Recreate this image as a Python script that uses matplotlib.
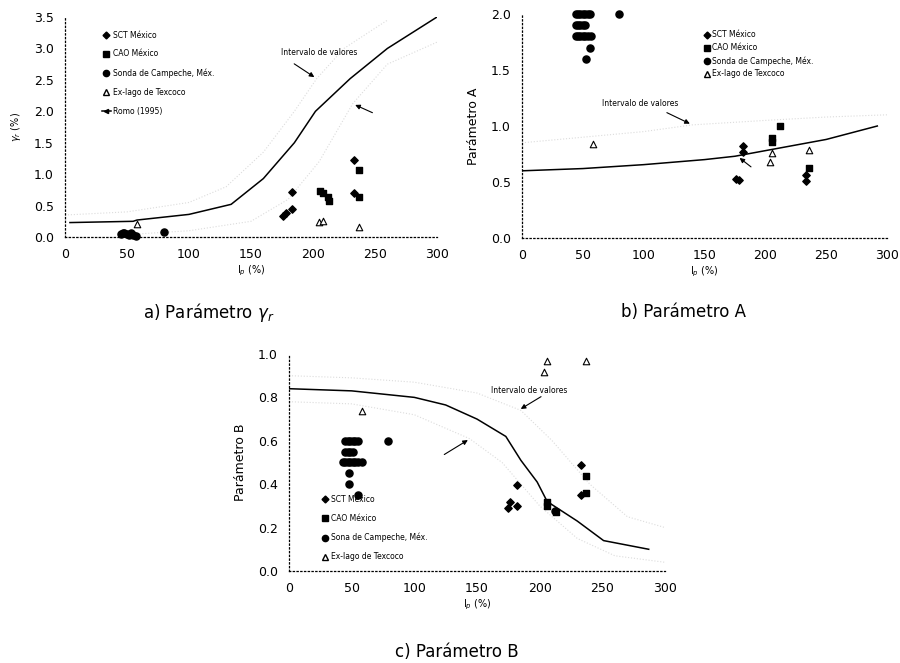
import matplotlib.pyplot as plt
from matplotlib.lines import Line2D

plt.rcParams['font.family'] = ['DejaVu Sans']

# ---- a) gamma_r ----
romo_a_x = [4, 55, 58, 100, 134, 160, 185, 202, 230, 260, 300]
romo_a_y = [0.23, 0.25, 0.27, 0.36, 0.52, 0.93, 1.5, 2.0, 2.52, 3.0, 3.5]
band_a_up_x = [0, 50, 100, 130, 160, 185, 203, 225, 260]
band_a_up_y = [0.35, 0.4, 0.55, 0.8, 1.35, 2.0, 2.52, 3.0, 3.45]
band_a_lo_x = [60, 100, 150, 180, 205, 232, 260, 300]
band_a_lo_y = [0.05, 0.1, 0.25, 0.6, 1.2, 2.12, 2.75, 3.1]
sct_a_x = [183, 183, 176, 178, 233, 233]
sct_a_y = [0.72, 0.45, 0.33, 0.38, 1.22, 0.70]
cao_a_x = [206, 208, 212, 213, 237, 237]
cao_a_y = [0.74, 0.70, 0.64, 0.57, 1.06, 0.64]
sonda_a_x = [45, 47, 48, 50, 52, 53, 55, 57, 80]
sonda_a_y = [0.05, 0.06, 0.07, 0.05, 0.04, 0.06, 0.03, 0.02, 0.08]
tex_a_x = [58, 205, 208, 237]
tex_a_y = [0.20, 0.24, 0.25, 0.16]

# ---- b) A ----
romo_b_x = [0, 50, 100, 150, 175, 185, 200, 250, 292]
romo_b_y = [0.6, 0.62, 0.655, 0.70, 0.73, 0.75, 0.78, 0.88, 1.0]
band_b_up_x = [0, 100, 140, 200, 250, 300]
band_b_up_y = [0.85, 0.95, 1.01, 1.05, 1.08, 1.1]
sct_b_x = [176, 178, 182, 182, 233, 233]
sct_b_y = [0.53, 0.52, 0.82, 0.77, 0.565, 0.505]
cao_b_x = [205.5, 205.5, 212, 235.6]
cao_b_y = [0.89, 0.86, 1.0, 0.624]
sonda_b_x = [44, 46, 48, 50, 52, 54, 56, 44, 46, 48, 50, 52,
             44, 46, 48, 50, 52, 54, 57, 56, 53, 80]
sonda_b_y = [2.0, 2.0, 2.0, 2.0, 2.0, 2.0, 2.0, 1.9, 1.9, 1.9, 1.9, 1.9,
             1.8, 1.8, 1.8, 1.8, 1.8, 1.8, 1.8, 1.7, 1.6, 2.0]
tex_b_x = [58, 203.6, 205.5, 235.6]
tex_b_y = [0.84, 0.683, 0.758, 0.79]

# ---- c) B ----
romo_c_x = [0, 50, 100, 125, 150, 173, 185, 198, 206, 230, 251, 287]
romo_c_y = [0.84, 0.83, 0.80, 0.765, 0.70, 0.62, 0.51, 0.41, 0.32, 0.23, 0.14, 0.10]
band_c_up_x = [0, 50, 100, 150, 185, 210, 240, 270, 300]
band_c_up_y = [0.9, 0.89, 0.87, 0.82, 0.74, 0.6, 0.4, 0.25, 0.2]
band_c_lo_x = [0, 50, 100, 144, 170, 200, 230, 260, 300]
band_c_lo_y = [0.78, 0.77, 0.72, 0.61, 0.5, 0.3, 0.15, 0.07, 0.04]
sct_c_x = [175, 176.6, 182, 182, 232.7, 232.7]
sct_c_y = [0.288, 0.318, 0.298, 0.398, 0.488, 0.349]
cao_c_x = [206, 206, 212.7, 236.7, 236.7]
cao_c_y = [0.318, 0.298, 0.272, 0.438, 0.36]
sonda_c_x = [45, 47, 49, 51, 53, 55, 45, 47, 49, 51, 43, 45, 47, 49, 51, 53, 55, 58,
             48, 48, 55, 79, 212]
sonda_c_y = [0.6, 0.6, 0.6, 0.6, 0.6, 0.6, 0.55, 0.55, 0.55, 0.55, 0.5, 0.5, 0.5, 0.5,
             0.5, 0.5, 0.5, 0.5, 0.45, 0.4, 0.35, 0.6, 0.275]
tex_c_x = [58.4, 203.8, 206, 237]
tex_c_y = [0.738, 0.918, 0.968, 0.968]

labels_ab = ["SCT México", "CAO México", "Sonda de Campeche, Méx.", "Ex-lago de Texcoco"]
labels_c = ["SCT México", "CAO México", "Sona de Campeche, Méx.", "Ex-lago de Texcoco"]

fig = plt.figure(figsize=(9, 6.63), dpi=100)
ax_a = fig.add_axes([0.0722, 0.6425, 0.4133, 0.3318])
ax_b = fig.add_axes([0.58, 0.641, 0.4056, 0.3379])
ax_c = fig.add_axes([0.3211, 0.1388, 0.4178, 0.3273])


def style(ax, ymax, ystep):
    for s in ['top', 'right']:
        ax.spines[s].set_visible(False)
    for s in ['left', 'bottom']:
        ax.spines[s].set_linestyle((0, (1, 2)))
        ax.spines[s].set_linewidth(0.9)
    ax.set_xlim(0, 300)
    ax.set_ylim(0, ymax)
    ax.set_xticks(range(0, 301, 50))
    ticks = [i * ystep for i in range(int(round(ymax / ystep)) + 1)]
    ax.set_yticks(ticks)
    ax.set_yticklabels([f"{t:.1f}" for t in ticks])
    ax.tick_params(length=0, labelsize=9, pad=8)
    ax.set_xlabel("I$_p$ (%)", fontsize=7, labelpad=2)


def points(ax, sx, sy, cx, cy, ox, oy, tx, ty):
    kw = dict(color='black', zorder=3, clip_on=False)
    ax.scatter(sx, sy, marker='D', s=14, **kw)
    ax.scatter(cx, cy, marker='s', s=22, **kw)
    ax.scatter(ox, oy, marker='o', s=26, **kw)
    ax.scatter(tx, ty, marker='^', s=22, facecolor='white', edgecolor='black',
               linewidth=0.8, zorder=3, clip_on=False)


def handles():
    return [
        Line2D([], [], marker='D', ls='none', color='black', markersize=3.5),
        Line2D([], [], marker='s', ls='none', color='black', markersize=4),
        Line2D([], [], marker='o', ls='none', color='black', markersize=4.5),
        Line2D([], [], marker='^', ls='none', markerfacecolor='white',
               markeredgecolor='black', markersize=4.5),
    ]


arrow = dict(arrowstyle='-|>', color='black', lw=0.8, mutation_scale=7)
band_style = dict(color='#dcdcdc', ls=':', lw=0.8)

# a
style(ax_a, 3.5, 0.5)
ax_a.plot(band_a_up_x, band_a_up_y, **band_style)
ax_a.plot(band_a_lo_x, band_a_lo_y, **band_style)
ax_a.plot(romo_a_x, romo_a_y, color='black', lw=1.1)
points(ax_a, sct_a_x, sct_a_y, cao_a_x, cao_a_y, sonda_a_x, sonda_a_y, tex_a_x, tex_a_y)
ax_a.set_ylabel(r"$\gamma_r$ (%)", fontsize=7, labelpad=8)
h = handles() + [Line2D([], [], color='black', lw=1.1, marker='<', markersize=3,
                        markevery=[0])]
ax_a.legend(h, labels_ab + ["Romo (1995)"], loc='upper left', bbox_to_anchor=(0.08, 0.97),
            frameon=False, fontsize=5.5, handlelength=1.2, handletextpad=0.3,
            labelspacing=1.3, borderaxespad=0.5)
ax_a.annotate("", xy=(203, 2.52), xytext=(183, 2.78), arrowprops=arrow)
ax_a.text(174, 2.93, "Intervalo de valores", fontsize=5.5, ha='left', va='center')
ax_a.annotate("", xy=(232, 2.12), xytext=(250, 1.96), arrowprops=arrow)
fig.text(0.232, 0.529, r"a) Parámetro $\gamma_r$", fontsize=12, ha='center', va='center')

# b
style(ax_b, 2.0, 0.5)
ax_b.plot(band_b_up_x, band_b_up_y, **band_style)
ax_b.plot(romo_b_x, romo_b_y, color='black', lw=1.1)
points(ax_b, sct_b_x, sct_b_y, cao_b_x, cao_b_y, sonda_b_x, sonda_b_y, tex_b_x, tex_b_y)
ax_b.set_ylabel("Parámetro A", fontsize=9, labelpad=8)
ax_b.legend(handles(), labels_ab, loc='upper left', bbox_to_anchor=(0.49, 0.94),
            frameon=False, fontsize=5.5, handlelength=0.8, handletextpad=0.3,
            labelspacing=0.5, borderaxespad=0.0)
ax_b.annotate("", xy=(140, 1.01), xytext=(117, 1.13), arrowprops=arrow)
ax_b.text(66, 1.2, "Intervalo de valores", fontsize=5.5, ha='left', va='center')
ax_b.annotate("", xy=(177, 0.73), xytext=(190, 0.62), arrowprops=arrow)
fig.text(0.759, 0.529, "b) Parámetro A", fontsize=12, ha='center', va='center')

# c
style(ax_c, 1.0, 0.2)
ax_c.plot(band_c_up_x, band_c_up_y, **band_style)
ax_c.plot(band_c_lo_x, band_c_lo_y, **band_style)
ax_c.plot(romo_c_x, romo_c_y, color='black', lw=1.1)
points(ax_c, sct_c_x, sct_c_y, cao_c_x, cao_c_y, sonda_c_x, sonda_c_y, tex_c_x, tex_c_y)
ax_c.set_ylabel("Parámetro B", fontsize=9, labelpad=8)
ax_c.legend(handles(), labels_c, loc='lower left', bbox_to_anchor=(0.08, 0.03),
            frameon=False, fontsize=5.5, handlelength=0.8, handletextpad=0.3,
            labelspacing=1.3, borderaxespad=0.0)
ax_c.annotate("", xy=(183, 0.74), xytext=(203, 0.81), arrowprops=arrow)
ax_c.text(161, 0.83, "Intervalo de valores", fontsize=5.5, ha='left', va='center')
ax_c.annotate("", xy=(144.6, 0.61), xytext=(122, 0.53), arrowprops=arrow)
fig.text(0.508, 0.016, "c) Parámetro B", fontsize=12, ha='center', va='center')

fig.savefig("out.png", dpi=100)
